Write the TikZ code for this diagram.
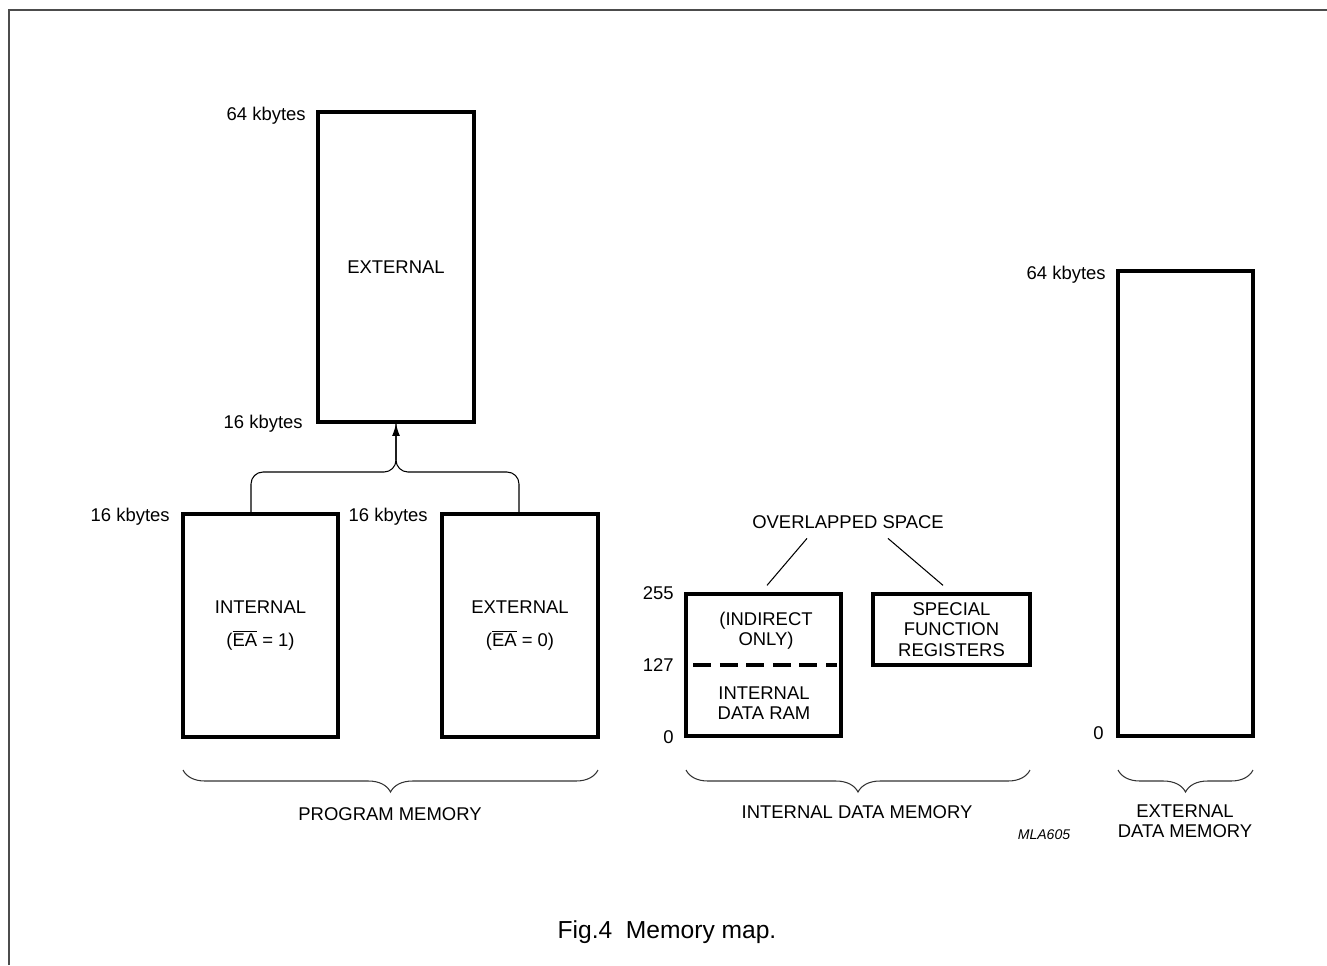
\documentclass[tikz,border=0pt]{standalone}
\usepackage{fontspec}
\setmainfont{Liberation Sans}
\usetikzlibrary{arrows.meta,decorations.pathreplacing}

\begin{document}
\begin{tikzpicture}[x=0.02cm,y=-0.02cm,
  mem/.style={draw, line width=1.9pt, inner sep=0pt, align=center, font=\fontsize{10.5}{11.6}\selectfont},
  lbl/.style={inner sep=0pt, align=center, font=\fontsize{10.5}{11.6}\selectfont},
  wire/.style={line width=0.6pt},
  brc/.style={line width=0.6pt, black!80, decorate, decoration={brace, mirror, amplitude=0.44cm}}]
  % page frame, cut at the right and bottom
  \useasboundingbox (0,0) rectangle (1327,965);
  \draw[black!70, line width=1.1pt] (9,965) -- (9,10) -- (1327,10);

  % program memory
  \node[mem, minimum width=3.12cm, minimum height=6.2cm] (pext) at (396,267) {EXTERNAL};
  \node[mem, minimum width=3.1cm, minimum height=4.46cm] (pint) at (260.5,625.5)
       {INTERNAL\\[7pt]($\overline{\hbox{EA}}$ = 1)};
  \node[mem, minimum width=3.12cm, minimum height=4.46cm] (pext0) at (520,625.5)
       {EXTERNAL\\[7pt]($\overline{\hbox{EA}}$ = 0)};
  \node[lbl, anchor=east] (k64a) at (306,116) {64 kbytes};
  \node[lbl, anchor=east] (k16a) at (303,424) {16 kbytes};
  \node[lbl, anchor=east] (k16b) at (170,517) {16 kbytes};
  \node[lbl, anchor=east] (k16c) at (428,517) {16 kbytes};

  % both 16 kbyte blocks lead into the external area
  \coordinate (join) at (396,472);
  \draw[wire, rounded corners=0.24cm] ([xshift=-0.19cm]pint.north) |- (join) -- (pext.south);
  \draw[wire, rounded corners=0.24cm, -{Latex[length=7pt,width=4.5pt]}]
       ([xshift=-0.02cm]pext0.north) |- (join) -- (pext.south);

  % internal data memory
  \node[mem, minimum width=3.1cm, minimum height=2.84cm] (iram) at (763.5,665) {};
  \draw[line width=1.9pt, dash pattern=on 10.2pt off 4.9pt]
       ([xshift=0.18cm]iram.west) -- ([xshift=-0.12cm]iram.east);
  \node[lbl] (indir) at (766,631) {(INDIRECT\\ONLY)};
  \node[lbl] (iramtxt) at (764,703) {INTERNAL\\DATA RAM};
  \node[mem, minimum width=3.14cm, minimum height=1.42cm] (sfr) at (951.5,629.5)
       {SPECIAL\\FUNCTION\\REGISTERS};
  \node[lbl] (ovl) at (848,522) {OVERLAPPED SPACE};
  \draw[wire] ([xshift=-0.82cm,yshift=-0.19cm]ovl.south) -- ([xshift=0.07cm,yshift=0.14cm]iram.north);
  \draw[wire] ([xshift=0.8cm,yshift=-0.19cm]ovl.south) -- ([xshift=-0.17cm,yshift=0.14cm]sfr.north);
  \node[lbl, anchor=east] (a255) at (674,593) {255};
  \node[lbl, anchor=east] (a127) at (674,665) {127};
  \node[lbl, anchor=east] (a000) at (674,737) {0};

  % external data memory
  \node[mem, minimum width=2.7cm, minimum height=9.3cm] (xram) at (1185.5,503.5) {};
  \node[lbl, anchor=east] (k64b) at (1106,275) {64 kbytes};
  \node[lbl, anchor=east] (x000) at (1104,733) {0};

  % braces and group names
  \draw[brc] (183,770) -- (598,770);
  \node[lbl] (pmem) at (390,814) {PROGRAM MEMORY};
  \draw[brc] (686,770) -- (1030,770);
  \node[lbl] (imem) at (857,812) {INTERNAL DATA MEMORY};
  \draw[brc] (1118,770) -- (1253,770);
  \node[lbl] (xmem) at (1185,821) {EXTERNAL\\DATA MEMORY};
  \node[inner sep=0pt, font=\fontsize{8}{9}\selectfont\itshape] (code) at (1044,835) {MLA605};

  % caption
  \node[inner sep=0pt, font=\fontsize{14}{16}\selectfont] (cap) at (667,932) {Fig.4~~Memory map.};
\end{tikzpicture}
\end{document}
